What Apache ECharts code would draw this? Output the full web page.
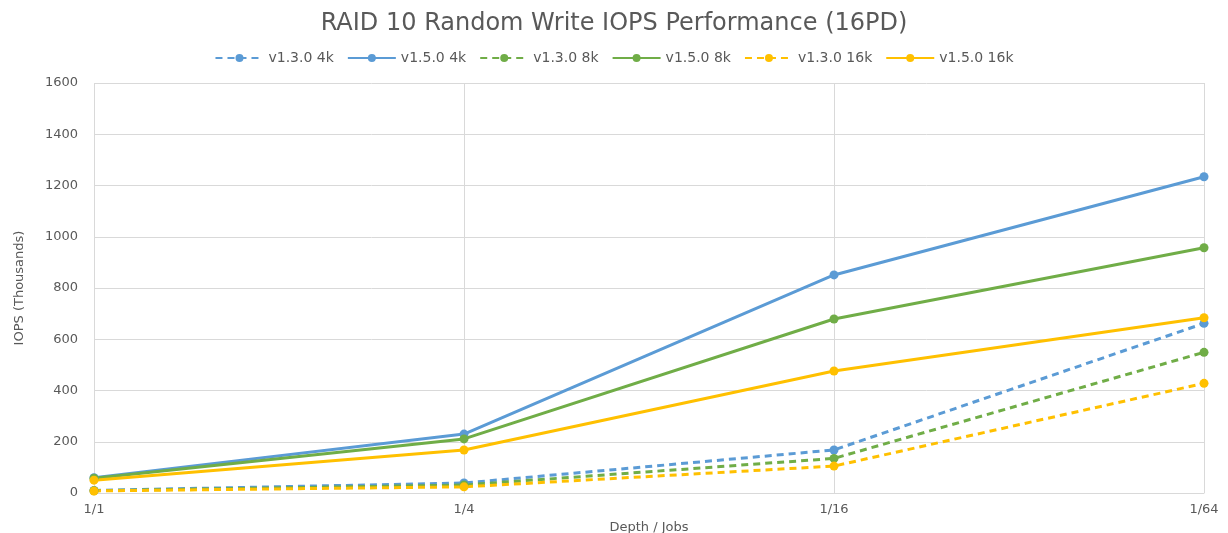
<!DOCTYPE html>
<html><head><meta charset="utf-8">
<script src="https://cdn.jsdelivr.net/npm/echarts@6/dist/echarts.min.js"></script>
<style>html,body{margin:0;padding:0;background:#fff}#c{width:1228px;height:533px}</style>
</head><body><div id="c"></div>
<script>
var categories = ['1/1', '1/4', '1/16', '1/64'];
var v130_4k = [10, 39, 168, 662];
var v150_4k = [60, 230, 851, 1234];
var v130_8k = [9, 31, 135, 549];
var v150_8k = [58, 211, 679, 957];
var v130_16k = [8, 24, 105, 428];
var v150_16k = [50, 168, 476, 684];

var blue = '#5B9BD5', green = '#70AD47', yellow = '#FFC000';
var FONT = 'DejaVu Sans';
function s(name, data, color, dashed) {
  return {
    name: name, type: 'line', data: data, symbol: 'circle', symbolSize: 9,
    itemStyle: { color: color },
    lineStyle: { color: color, width: 3, type: dashed ? [7, 5] : 'solid' },
    emphasis: { disabled: true }
  };
}
var chart = echarts.init(document.getElementById('c'));
chart.setOption({
  animation: false,
  textStyle: { fontFamily: FONT, color: '#595959' },
  title: { text: 'RAID 10 Random Write IOPS Performance (16PD)', left: 'center', top: 7,
    textStyle: { fontFamily: FONT, fontSize: 24, fontWeight: 'normal', color: '#595959' } },
  legend: { top: 46, left: 'center', itemWidth: 48, itemHeight: 10, itemGap: 13,
    textStyle: { fontFamily: FONT, fontSize: 14, color: '#595959' },
    data: ['v1.3.0 4k', 'v1.5.0 4k', 'v1.3.0 8k', 'v1.5.0 8k', 'v1.3.0 16k', 'v1.5.0 16k'] },
  grid: { left: 94, right: 24, top: 83, bottom: 40, containLabel: false, outerBoundsMode: 'none' },
  xAxis: {
    type: 'category', data: categories, boundaryGap: false,
    name: 'Depth / Jobs', nameLocation: 'middle', nameGap: 22,
    nameTextStyle: { fontFamily: FONT, fontSize: 13, color: '#595959' },
    axisLine: { lineStyle: { color: '#d9d9d9' } }, axisTick: { show: false },
    axisLabel: { fontFamily: FONT, fontSize: 13, color: '#595959', margin: 10 },
    splitLine: { show: true, lineStyle: { color: '#d9d9d9' } }
  },
  yAxis: {
    type: 'value', min: 0, max: 1600, interval: 200,
    name: 'IOPS (Thousands)', nameLocation: 'middle', nameGap: 68,
    nameTextStyle: { fontFamily: FONT, fontSize: 13, color: '#595959' },
    axisLine: { show: false }, axisTick: { show: false },
    axisLabel: { fontFamily: FONT, fontSize: 13, color: '#595959', margin: 16,
      formatter: function (v) { return String(v); } },
    splitLine: { lineStyle: { color: '#d9d9d9' } }
  },
  series: [
    s('v1.3.0 4k', v130_4k, blue, true),
    s('v1.5.0 4k', v150_4k, blue, false),
    s('v1.3.0 8k', v130_8k, green, true),
    s('v1.5.0 8k', v150_8k, green, false),
    s('v1.3.0 16k', v130_16k, yellow, true),
    s('v1.5.0 16k', v150_16k, yellow, false)
  ]
});
</script></body></html>
